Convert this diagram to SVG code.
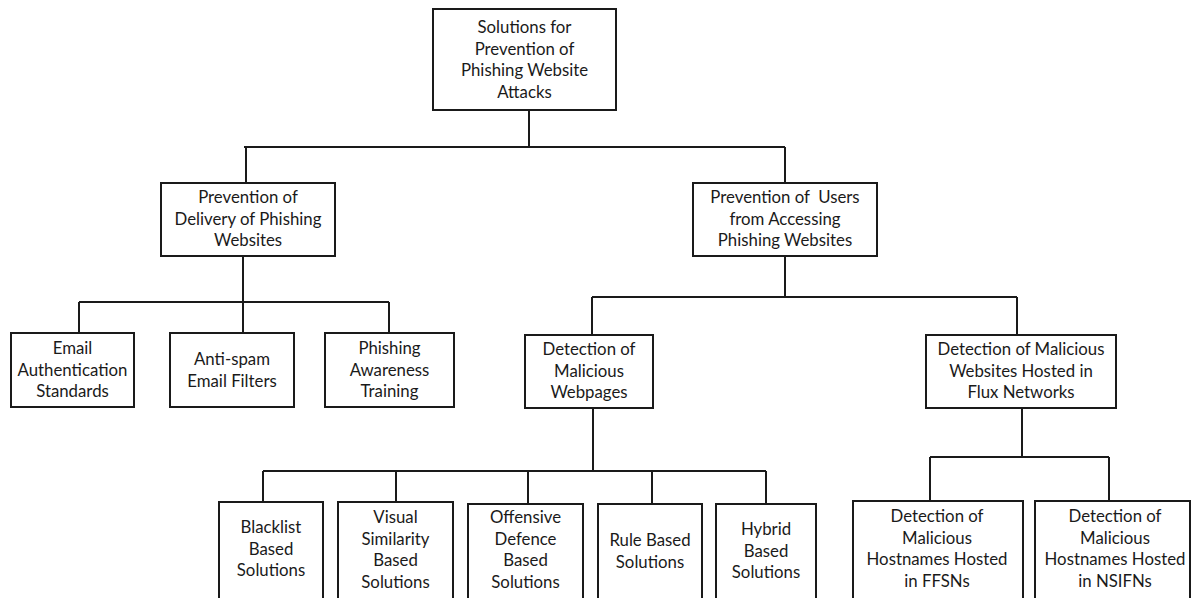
<svg xmlns="http://www.w3.org/2000/svg" width="1192" height="598" viewBox="0 0 1192 598">
  <style>
    .box { fill: #ffffff; stroke: #1a1a1a; stroke-width: 2; }
    .wire { fill: none; stroke: #1a1a1a; stroke-width: 2; }
    .lbl { font-family: Lato, "Liberation Sans", sans-serif; font-size: 16.8px; fill: #1a1a1a; text-anchor: middle; white-space: pre; }
  </style>
  <rect width="1192" height="598" fill="#ffffff"/>

  <!-- tree connectors -->
  <g id="connectors" class="wire">
    <path d="M529 110 V147 M244 147 H785 M246 147 V183 M785 147 V183"/>
    <path d="M243 256 V302 M79 302 H389 M79 302 V333 M243 302 V333 M389 302 V333"/>
    <path d="M785 256 V297 M592 297 H1017 M592 297 V335 M1017 297 V335"/>
    <path d="M593 408 V471 M263 471 H766 M263 471 V502 M396 471 V502 M528 471 V504 M652 471 V504 M766 471 V504"/>
    <path d="M1022 408 V457 M930 457 H1109 M930 457 V501 M1109 457 V501"/>
  </g>

  <g id="root">
    <rect class="box" x="433" y="9" width="183" height="101"/>
    <text class="lbl" y="33"><tspan x="524.5">Solutions for</tspan><tspan x="524.5" dy="21.5">Prevention of</tspan><tspan x="524.5" dy="21.5">Phishing Website</tspan><tspan x="524.5" dy="21.5">Attacks</tspan></text>
  </g>

  <g id="delivery">
    <rect class="box" x="161" y="183" width="174" height="73"/>
    <text class="lbl" y="203"><tspan x="248">Prevention of</tspan><tspan x="248" dy="21.5">Delivery of Phishing</tspan><tspan x="248" dy="21.5">Websites</tspan></text>
  </g>

  <g id="access">
    <rect class="box" x="693" y="183" width="184" height="73"/>
    <text class="lbl" y="203"><tspan x="785">Prevention of  Users</tspan><tspan x="785" dy="21.5">from Accessing</tspan><tspan x="785" dy="21.5">Phishing Websites</tspan></text>
  </g>

  <g id="email-auth">
    <rect class="box" x="11" y="333" width="123" height="74"/>
    <text class="lbl" y="354"><tspan x="72.5">Email</tspan><tspan x="72.5" dy="21.5">Authentication</tspan><tspan x="72.5" dy="21.5">Standards</tspan></text>
  </g>

  <g id="anti-spam">
    <rect class="box" x="170" y="333" width="124" height="74"/>
    <text class="lbl" y="365"><tspan x="232">Anti-spam</tspan><tspan x="232" dy="21.5">Email Filters</tspan></text>
  </g>

  <g id="awareness">
    <rect class="box" x="325" y="333" width="129" height="74"/>
    <text class="lbl" y="354"><tspan x="389.5">Phishing</tspan><tspan x="389.5" dy="21.5">Awareness</tspan><tspan x="389.5" dy="21.5">Training</tspan></text>
  </g>

  <g id="webpages">
    <rect class="box" x="525" y="335" width="128" height="73"/>
    <text class="lbl" y="355"><tspan x="589">Detection of</tspan><tspan x="589" dy="21.5">Malicious</tspan><tspan x="589" dy="21.5">Webpages</tspan></text>
  </g>

  <g id="flux">
    <rect class="box" x="926" y="335" width="190" height="73"/>
    <text class="lbl" y="355"><tspan x="1021">Detection of Malicious</tspan><tspan x="1021" dy="21.5">Websites Hosted in</tspan><tspan x="1021" dy="21.5">Flux Networks</tspan></text>
  </g>

  <g id="blacklist">
    <rect class="box" x="219" y="502" width="104" height="110"/>
    <text class="lbl" y="533"><tspan x="271">Blacklist</tspan><tspan x="271" dy="21.5">Based</tspan><tspan x="271" dy="21.5">Solutions</tspan></text>
  </g>

  <g id="visual">
    <rect class="box" x="338" y="502" width="115" height="110"/>
    <text class="lbl" y="523"><tspan x="395.5">Visual</tspan><tspan x="395.5" dy="21.5">Similarity</tspan><tspan x="395.5" dy="21.5">Based</tspan><tspan x="395.5" dy="21.5">Solutions</tspan></text>
  </g>

  <g id="offensive">
    <rect class="box" x="468" y="504" width="115" height="110"/>
    <text class="lbl" y="523"><tspan x="525.5">Offensive</tspan><tspan x="525.5" dy="21.5">Defence</tspan><tspan x="525.5" dy="21.5">Based</tspan><tspan x="525.5" dy="21.5">Solutions</tspan></text>
  </g>

  <g id="rule">
    <rect class="box" x="598" y="504" width="104" height="110"/>
    <text class="lbl" y="546"><tspan x="650">Rule Based</tspan><tspan x="650" dy="21.5">Solutions</tspan></text>
  </g>

  <g id="hybrid">
    <rect class="box" x="716" y="504" width="100" height="110"/>
    <text class="lbl" y="535"><tspan x="766">Hybrid</tspan><tspan x="766" dy="21.5">Based</tspan><tspan x="766" dy="21.5">Solutions</tspan></text>
  </g>

  <g id="ffsn">
    <rect class="box" x="853" y="501" width="170" height="110"/>
    <text class="lbl" y="522"><tspan x="937">Detection of</tspan><tspan x="937" dy="21.5">Malicious</tspan><tspan x="937" dy="21.5">Hostnames Hosted</tspan><tspan x="937" dy="21.5">in FFSNs</tspan></text>
  </g>

  <g id="nsifn">
    <rect class="box" x="1035" y="501" width="155" height="110"/>
    <text class="lbl" y="522"><tspan x="1115">Detection of</tspan><tspan x="1115" dy="21.5">Malicious</tspan><tspan x="1115" dy="21.5">Hostnames Hosted</tspan><tspan x="1115" dy="21.5">in NSIFNs</tspan></text>
  </g>
</svg>
